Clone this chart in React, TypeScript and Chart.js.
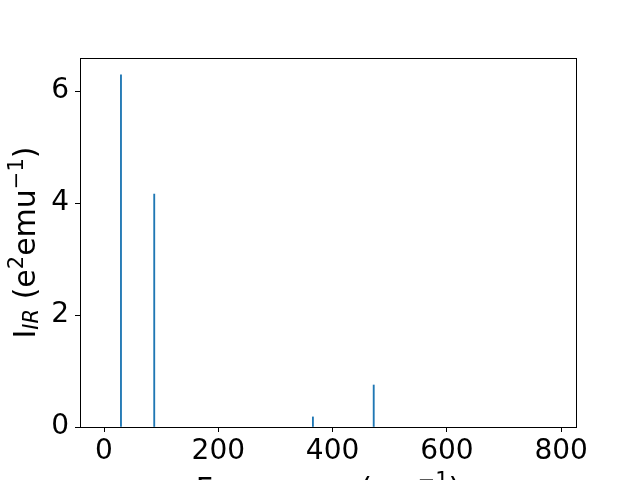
import React, { useEffect, useRef } from "react";
import { Chart, registerables } from "chart.js";

Chart.register(...registerables);

const FREQUENCIES = [29.7, 87.9, 365.6, 472.0];
const INTENSITIES = [6.29, 4.16, 0.18, 0.75];
const X_TICKS = [0, 200, 400, 600, 800];
const Y_TICKS = [0, 2, 4, 6];
const X_LABEL = "Frequency (cm";
const BAR_COLOR = "#1f77b4";
const FONT = "'DejaVu Sans', sans-serif";

const frameAndTitles = {
  id: "frameAndTitles",
  afterDraw(chart: any) {
    const { ctx, chartArea } = chart;
    ctx.save();
    ctx.strokeStyle = "#000";
    ctx.lineWidth = 1;
    ctx.strokeRect(
      Math.round(chartArea.left) + 0.5,
      Math.round(chartArea.top) + 0.5,
      Math.round(chartArea.right - chartArea.left),
      Math.round(chartArea.bottom - chartArea.top)
    );
    ctx.fillStyle = "#000";
    ctx.textBaseline = "alphabetic";

    // Y title with sub/superscripts
    const big = `30px ${FONT}`;
    const small = `21px ${FONT}`;
    const smallIt = `italic 21px ${FONT}`;
    const segs: [string, string, number][] = [
      ["I", big, 0],
      ["IR", smallIt, 3],
      [" (e", big, 0],
      ["2", small, -12],
      ["emu", big, 0],
      ["\u22121", small, -12],
      [")", big, 0],
    ];
    let total = 0;
    for (const s of segs) {
      ctx.font = s[1];
      total += ctx.measureText(s[0]).width;
    }
    const cy = (chartArea.top + chartArea.bottom) / 2;
    ctx.translate(35, cy);
    ctx.rotate(-Math.PI / 2);
    let x = -total / 2;
    ctx.textAlign = "left";
    for (const s of segs) {
      ctx.font = s[1];
      ctx.fillText(s[0], x, s[2]);
      x += ctx.measureText(s[0]).width;
    }
    ctx.setTransform(1, 0, 0, 1, 0, 0);

    // X title
    const xsegs: [string, string, number][] = [
      [X_LABEL, big, 0],
      ["\u22121", small, -12],
      [")", big, 0],
    ];
    let xt = 0;
    for (const s of xsegs) {
      ctx.font = s[1];
      xt += ctx.measureText(s[0]).width;
    }
    let xx = (chartArea.left + chartArea.right) / 2 - xt / 2;
    for (const s of xsegs) {
      ctx.font = s[1];
      ctx.fillText(s[0], xx, 499 + s[2]);
      xx += ctx.measureText(s[0]).width;
    }
    ctx.restore();
  },
};

export default function App() {
  const ref = useRef<HTMLCanvasElement | null>(null);
  useEffect(() => {
    if (!ref.current) return;
    const chart = new Chart(ref.current, {
      type: "bar",
      data: {
        datasets: [
          {
            data: FREQUENCIES.map((f, i) => ({ x: f, y: INTENSITIES[i] })),
            backgroundColor: BAR_COLOR,
            borderWidth: 0,
            barThickness: 1.2,
          } as any,
        ],
      },
      options: {
        animation: false,
        responsive: false,
        maintainAspectRatio: false,
        layout: { padding: { top: 58, right: 64, left: 0, bottom: 0 } },
        plugins: { legend: { display: false }, tooltip: { enabled: false } },
        scales: {
          x: {
            type: "linear",
            min: -42,
            max: 826,
            offset: false,
            afterBuildTicks: (s: any) => {
              s.ticks = X_TICKS.map((v) => ({ value: v }));
            },
            afterFit: (s: any) => {
              s.height = 53;
            },
            grid: {
              offset: false,
              drawOnChartArea: false,
              drawTicks: true,
              tickLength: 5,
              color: "#000",
            },
            border: { display: true, color: "#000" },
            ticks: {
              color: "#000",
              font: { family: FONT, size: 28 },
              padding: 3,
              maxRotation: 0,
              autoSkip: false,
            },
          },
          y: {
            type: "linear",
            min: 0,
            max: 6.59,
            afterBuildTicks: (s: any) => {
              s.ticks = Y_TICKS.map((v) => ({ value: v }));
            },
            afterFit: (s: any) => {
              s.width = 80;
            },
            grid: {
              offset: false,
              drawOnChartArea: false,
              drawTicks: true,
              tickLength: 5,
              color: "#000",
            },
            border: { display: true, color: "#000" },
            ticks: {
              color: "#000",
              font: { family: FONT, size: 28 },
              padding: 6,
            },
          },
        },
      } as any,
      plugins: [frameAndTitles],
    });
    return () => chart.destroy();
  }, []);
  return (
    <div style={{ position: "fixed", left: 0, top: 0, width: 640, height: 480, background: "#fff" }}>
      <canvas ref={ref} width={640} height={480} style={{ width: 640, height: 480 }} />
    </div>
  );
}
